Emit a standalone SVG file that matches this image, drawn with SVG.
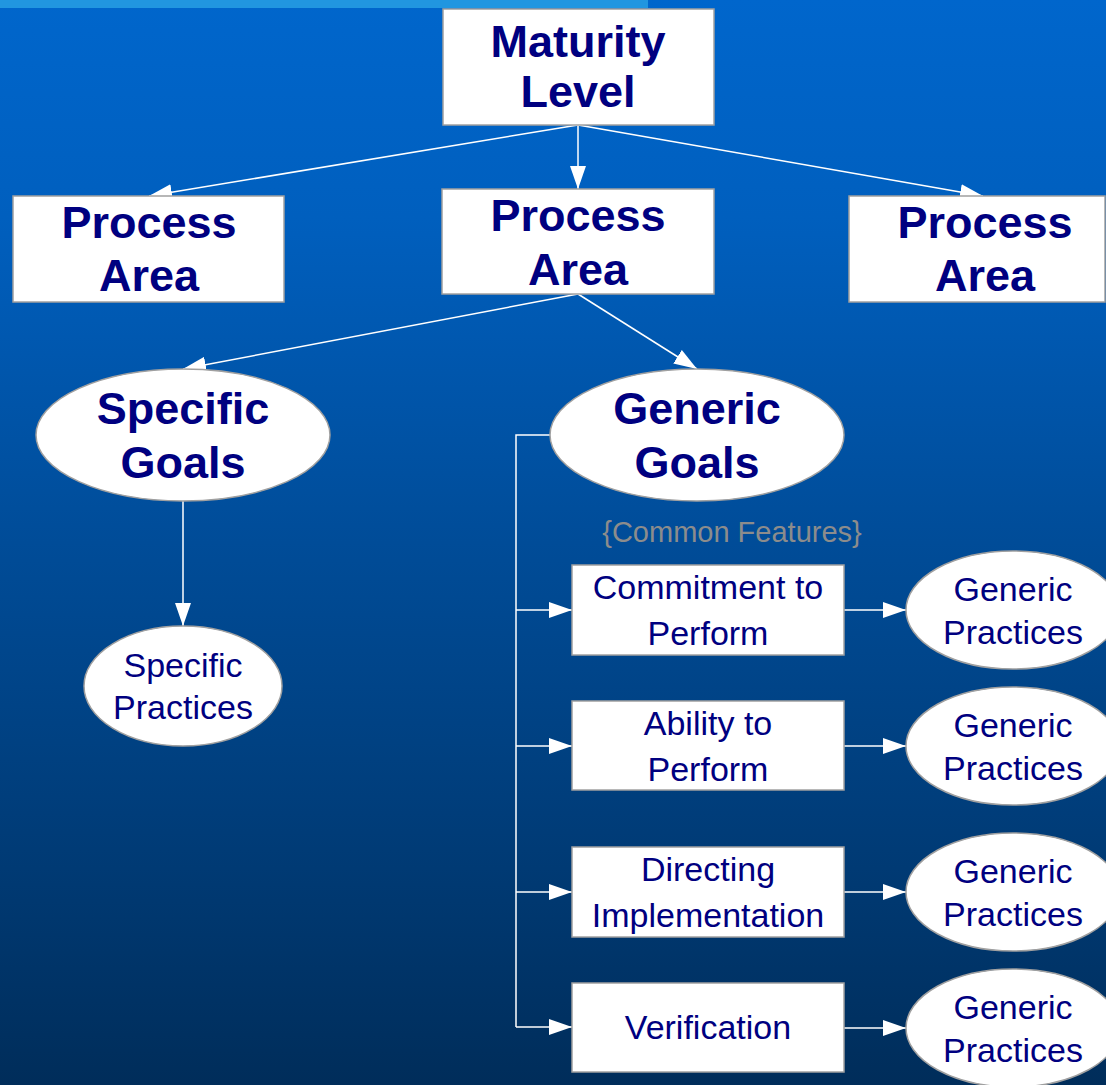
<svg xmlns="http://www.w3.org/2000/svg" width="1106" height="1085" viewBox="0 0 1106 1085">
<defs>
<linearGradient id="bg" x1="0" y1="0" x2="0" y2="1">
<stop offset="0" stop-color="#0066cc"/>
<stop offset="0.2" stop-color="#005fbe"/>
<stop offset="0.5" stop-color="#004c98"/>
<stop offset="0.8" stop-color="#003a74"/>
<stop offset="1" stop-color="#002d5a"/>
</linearGradient>
<marker id="arr" markerUnits="userSpaceOnUse" markerWidth="24" markerHeight="16" refX="23" refY="8" orient="auto">
<path d="M0,0 L23,8 L0,16 Z" fill="#ffffff"/>
</marker>
<style>
.box{fill:#ffffff;stroke:#a0a0a0;stroke-width:1.5}
.ell{fill:#ffffff;stroke:#a0a0a0;stroke-width:1.5}
.big{font-family:"Liberation Sans",Arial,sans-serif;font-weight:bold;font-size:45px;fill:#000080;text-anchor:middle}
.sm{font-family:"Liberation Sans",Arial,sans-serif;font-size:34px;fill:#000080;text-anchor:middle}
.note{font-family:"Liberation Sans",Arial,sans-serif;font-size:29px;fill:#8c8c8c;text-anchor:middle}
.ln{fill:none;stroke:#ffffff;stroke-width:1.5}
</style>
</defs>
<rect x="0" y="0" width="1106" height="1085" fill="url(#bg)"/>
<rect x="0" y="0" width="648" height="8" fill="#2196e0"/>

<g id="connectors">
<line class="ln" x1="578" y1="125" x2="149" y2="196" marker-end="url(#arr)"/>
<line class="ln" x1="578" y1="125" x2="578" y2="189" marker-end="url(#arr)"/>
<line class="ln" x1="578" y1="125" x2="983" y2="196" marker-end="url(#arr)"/>
<line class="ln" x1="578" y1="294" x2="183" y2="369" marker-end="url(#arr)"/>
<line class="ln" x1="578" y1="294" x2="697" y2="369" marker-end="url(#arr)"/>
<line class="ln" x1="183" y1="501" x2="183" y2="626" marker-end="url(#arr)"/>
<polyline class="ln" points="550,435 516,435 516,1027"/>
<line class="ln" x1="516" y1="610" x2="572" y2="610" marker-end="url(#arr)"/>
<line class="ln" x1="516" y1="746" x2="572" y2="746" marker-end="url(#arr)"/>
<line class="ln" x1="516" y1="892" x2="572" y2="892" marker-end="url(#arr)"/>
<line class="ln" x1="516" y1="1027" x2="572" y2="1027" marker-end="url(#arr)"/>
<line class="ln" x1="844" y1="610" x2="906" y2="610" marker-end="url(#arr)"/>
<line class="ln" x1="844" y1="746" x2="906" y2="746" marker-end="url(#arr)"/>
<line class="ln" x1="844" y1="892" x2="906" y2="892" marker-end="url(#arr)"/>
<line class="ln" x1="844" y1="1028" x2="906" y2="1028" marker-end="url(#arr)"/>
</g>

<g id="maturity-level">
<rect class="box" x="443" y="9" width="271" height="116"/>
<text class="big" x="578" y="57">Maturity</text>
<text class="big" x="578" y="107">Level</text>
</g>
<g id="process-area-left">
<rect class="box" x="13" y="196" width="271" height="106"/>
<text class="big" x="149" y="238">Process</text>
<text class="big" x="149" y="291">Area</text>
</g>
<g id="process-area-mid">
<rect class="box" x="442" y="189" width="272" height="105"/>
<text class="big" x="578" y="231">Process</text>
<text class="big" x="578" y="285">Area</text>
</g>
<g id="process-area-right">
<rect class="box" x="849" y="196" width="256" height="106"/>
<text class="big" x="985" y="238">Process</text>
<text class="big" x="985" y="291">Area</text>
</g>
<g id="specific-goals">
<ellipse class="ell" cx="183" cy="435" rx="147" ry="66"/>
<text class="big" x="183" y="424">Specific</text>
<text class="big" x="183" y="478">Goals</text>
</g>
<g id="generic-goals">
<ellipse class="ell" cx="697" cy="435" rx="147" ry="66"/>
<text class="big" x="697" y="424">Generic</text>
<text class="big" x="697" y="478">Goals</text>
</g>
<g id="specific-practices">
<ellipse class="ell" cx="183" cy="686" rx="99" ry="60"/>
<text class="sm" x="183" y="677">Specific</text>
<text class="sm" x="183" y="719">Practices</text>
</g>
<g id="common-features">
<text class="note" x="732" y="542">{Common Features}</text>
</g>
<g id="commitment">
<rect class="box" x="572" y="565" width="272" height="90"/>
<text class="sm" x="708" y="599">Commitment to</text>
<text class="sm" x="708" y="645">Perform</text>
</g>
<g id="ability">
<rect class="box" x="572" y="701" width="272" height="89"/>
<text class="sm" x="708" y="735">Ability to</text>
<text class="sm" x="708" y="781">Perform</text>
</g>
<g id="directing">
<rect class="box" x="572" y="847" width="272" height="90"/>
<text class="sm" x="708" y="881">Directing</text>
<text class="sm" x="708" y="927">Implementation</text>
</g>
<g id="verification">
<rect class="box" x="572" y="983" width="272" height="89"/>
<text class="sm" x="708" y="1039">Verification</text>
</g>
<g id="gp1">
<ellipse class="ell" cx="1013" cy="610" rx="107" ry="59"/>
<text class="sm" x="1013" y="601">Generic</text>
<text class="sm" x="1013" y="644">Practices</text>
</g>
<g id="gp2">
<ellipse class="ell" cx="1013" cy="746" rx="107" ry="59"/>
<text class="sm" x="1013" y="737">Generic</text>
<text class="sm" x="1013" y="780">Practices</text>
</g>
<g id="gp3">
<ellipse class="ell" cx="1013" cy="892" rx="107" ry="59"/>
<text class="sm" x="1013" y="883">Generic</text>
<text class="sm" x="1013" y="926">Practices</text>
</g>
<g id="gp4">
<ellipse class="ell" cx="1013" cy="1028" rx="107" ry="59"/>
<text class="sm" x="1013" y="1019">Generic</text>
<text class="sm" x="1013" y="1062">Practices</text>
</g>
</svg>
